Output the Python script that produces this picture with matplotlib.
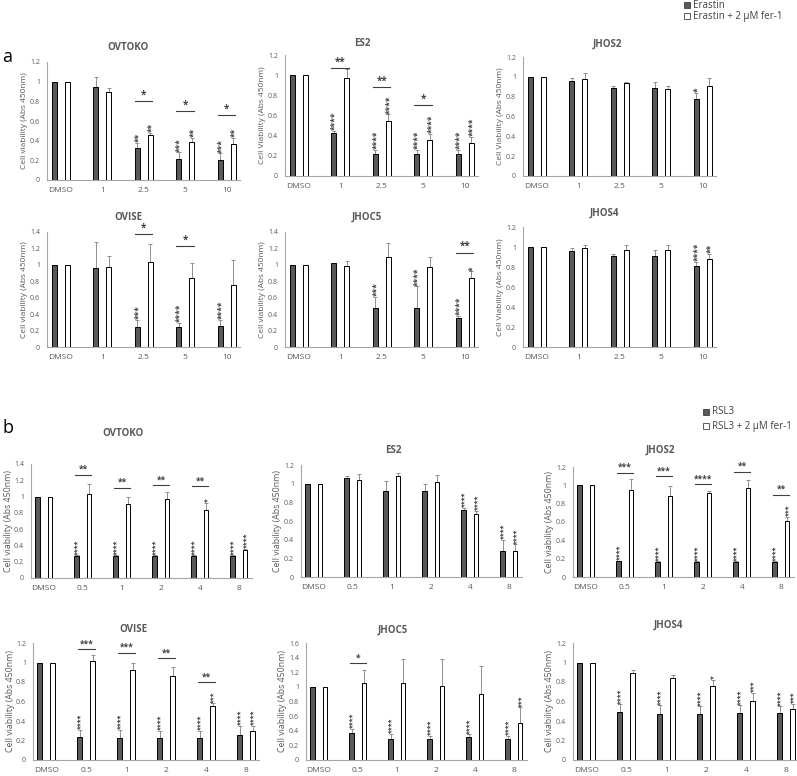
import matplotlib
matplotlib.use("Agg")
import matplotlib.pyplot as plt
from matplotlib.ticker import FuncFormatter, MultipleLocator
from matplotlib.patches import Rectangle
import numpy as np

# ---------------- data ----------------
a_doses = ["DMSO", "1", "2.5", "5", "10"]
b_doses = ["DMSO", "0.5", "1", "2", "4", "8"]

# panel a (Erastin)
a_ovtoko_drug = [1.00, 0.95, 0.33, 0.21, 0.20]
a_ovtoko_drug_err = [0, 0.10, 0.05, 0.07, 0.07]
a_ovtoko_fer = [1.00, 0.89, 0.46, 0.39, 0.37]
a_ovtoko_fer_err = [0, 0.05, 0.02, 0.04, 0.06]
a_ovtoko_drug_sig = ["", "", "**", "***", "***"]
a_ovtoko_fer_sig = ["", "", "**", "**", "**"]
a_ovtoko_pair_sig = ["", "", "*", "*", "*"]
a_ovtoko_pair_y = [0, 0, 0.80, 0.70, 0.66]

a_es2_drug = [1.00, 0.43, 0.22, 0.22, 0.22]
a_es2_drug_err = [0, 0.02, 0.04, 0.04, 0.04]
a_es2_fer = [1.00, 0.97, 0.55, 0.36, 0.33]
a_es2_fer_err = [0, 0.09, 0.06, 0.06, 0.06]
a_es2_drug_sig = ["", "****", "****", "****", "****"]
a_es2_fer_sig = ["", "", "****", "****", "****"]
a_es2_pair_sig = ["", "**", "**", "*", ""]
a_es2_pair_y = [0, 1.07, 0.88, 0.70, 0]

a_jhos2_drug = [1.00, 0.96, 0.89, 0.89, 0.78]
a_jhos2_drug_err = [0, 0.03, 0.02, 0.06, 0.06]
a_jhos2_fer = [1.00, 0.98, 0.94, 0.88, 0.91]
a_jhos2_fer_err = [0, 0.06, 0.005, 0.03, 0.08]
a_jhos2_drug_sig = ["", "", "", "", "*"]
a_jhos2_fer_sig = ["", "", "", "", ""]
a_jhos2_pair_sig = ["", "", "", "", ""]
a_jhos2_pair_y = [0, 0, 0, 0, 0]

a_ovise_drug = [1.00, 0.96, 0.24, 0.24, 0.26]
a_ovise_drug_err = [0, 0.32, 0.09, 0.05, 0.07]
a_ovise_fer = [1.00, 0.98, 1.03, 0.84, 0.76]
a_ovise_fer_err = [0, 0.13, 0.23, 0.18, 0.30]
a_ovise_drug_sig = ["", "", "***", "****", "****"]
a_ovise_fer_sig = ["", "", "", "", ""]
a_ovise_pair_sig = ["", "", "*", "*", ""]
a_ovise_pair_y = [0, 0, 1.37, 1.23, 0]

a_jhoc5_drug = [1.00, 1.02, 0.47, 0.47, 0.35]
a_jhoc5_drug_err = [0, 0.005, 0.14, 0.27, 0.03]
a_jhoc5_fer = [1.00, 0.99, 1.10, 0.98, 0.84]
a_jhoc5_fer_err = [0, 0.06, 0.17, 0.12, 0.08]
a_jhoc5_drug_sig = ["", "", "***", "****", "****"]
a_jhoc5_fer_sig = ["", "", "", "", "*"]
a_jhoc5_pair_sig = ["", "", "", "", "**"]
a_jhoc5_pair_y = [0, 0, 0, 0, 1.15]

a_jhos4_drug = [1.00, 0.96, 0.91, 0.91, 0.81]
a_jhos4_drug_err = [0, 0.03, 0.02, 0.06, 0.04]
a_jhos4_fer = [1.00, 0.99, 0.97, 0.97, 0.88]
a_jhos4_fer_err = [0, 0.03, 0.05, 0.05, 0.05]
a_jhos4_drug_sig = ["", "", "", "", "****"]
a_jhos4_fer_sig = ["", "", "", "", "**"]
a_jhos4_pair_sig = ["", "", "", "", ""]
a_jhos4_pair_y = [0, 0, 0, 0, 0]

# panel b (RSL3)
b_ovtoko_drug = [1.00, 0.27, 0.27, 0.27, 0.27, 0.27]
b_ovtoko_drug_err = [0, 0.01, 0.01, 0.01, 0.01, 0.01]
b_ovtoko_fer = [1.00, 1.03, 0.91, 0.97, 0.83, 0.34]
b_ovtoko_fer_err = [0, 0.13, 0.08, 0.09, 0.09, 0.02]
b_ovtoko_drug_sig = ["", "****", "****", "****", "****", "****"]
b_ovtoko_fer_sig = ["", "", "", "", "*", "****"]
b_ovtoko_pair_sig = ["", "**", "**", "**", "**", ""]
b_ovtoko_pair_y = [0, 1.27, 1.11, 1.14, 1.13, 0]

b_es2_drug = [1.00, 1.06, 0.92, 0.92, 0.72, 0.28]
b_es2_drug_err = [0, 0.02, 0.11, 0.08, 0.02, 0.12]
b_es2_fer = [1.00, 1.04, 1.08, 1.02, 0.68, 0.28]
b_es2_fer_err = [0, 0.06, 0.03, 0.07, 0.03, 0.07]
b_es2_drug_sig = ["", "", "", "", "****", "****"]
b_es2_fer_sig = ["", "", "", "", "****", "****"]
b_es2_pair_sig = ["", "", "", "", "", ""]
b_es2_pair_y = [0, 0, 0, 0, 0, 0]

b_jhos2_drug = [1.00, 0.17, 0.16, 0.16, 0.16, 0.16]
b_jhos2_drug_err = [0, 0.01, 0.01, 0.01, 0.01, 0.01]
b_jhos2_fer = [1.00, 0.95, 0.88, 0.92, 0.97, 0.61]
b_jhos2_fer_err = [0, 0.12, 0.11, 0.02, 0.09, 0.05]
b_jhos2_drug_sig = ["", "****", "****", "****", "****", "****"]
b_jhos2_fer_sig = ["", "", "", "", "", "***"]
b_jhos2_pair_sig = ["", "***", "***", "****", "**", "**"]
b_jhos2_pair_y = [0, 1.14, 1.10, 1.01, 1.15, 0.90]

b_ovise_drug = [1.00, 0.24, 0.23, 0.23, 0.23, 0.26]
b_ovise_drug_err = [0, 0.07, 0.08, 0.07, 0.07, 0.09]
b_ovise_fer = [1.00, 1.02, 0.92, 0.86, 0.55, 0.30]
b_ovise_fer_err = [0, 0.06, 0.08, 0.09, 0.03, 0.05]
b_ovise_drug_sig = ["", "****", "****", "****", "****", "****"]
b_ovise_fer_sig = ["", "", "", "", "***", "****"]
b_ovise_pair_sig = ["", "***", "***", "**", "**", ""]
b_ovise_pair_y = [0, 1.14, 1.10, 1.045, 0.80, 0]

b_jhoc5_drug = [1.00, 0.37, 0.29, 0.29, 0.31, 0.29]
b_jhoc5_drug_err = [0, 0.06, 0.07, 0.04, 0.04, 0.04]
b_jhoc5_fer = [1.00, 1.05, 1.05, 1.01, 0.90, 0.51]
b_jhoc5_fer_err = [0, 0.18, 0.33, 0.37, 0.39, 0.21]
b_jhoc5_drug_sig = ["", "****", "****", "****", "****", "****"]
b_jhoc5_fer_sig = ["", "", "", "", "", "***"]
b_jhoc5_pair_sig = ["", "*", "", "", "", ""]
b_jhoc5_pair_y = [0, 1.32, 0, 0, 0, 0]

b_jhos4_drug = [1.00, 0.49, 0.47, 0.47, 0.48, 0.48]
b_jhos4_drug_err = [0, 0.08, 0.09, 0.08, 0.08, 0.07]
b_jhos4_fer = [1.00, 0.89, 0.84, 0.76, 0.61, 0.52]
b_jhos4_fer_err = [0, 0.03, 0.03, 0.065, 0.08, 0.055]
b_jhos4_drug_sig = ["", "****", "****", "****", "****", "****"]
b_jhos4_fer_sig = ["", "", "", "*", "***", "***"]
b_jhos4_pair_sig = ["", "", "", "", "", ""]
b_jhos4_pair_y = [0, 0, 0, 0, 0, 0]

# ---------------- style ----------------
W, H = 797, 776
FONT = ["Open Sans", "DejaVu Sans"]
plt.rcParams["font.family"] = FONT
TXT = "#595959"
AXC = "#a6a6a6"
DARK = "#595959"
ERRC = "#7f7f7f"

fig = plt.figure(figsize=(W / 100, H / 100), dpi=100)

def fmt(v, _):
    return "%g" % round(v, 1)

# panels: (title, doses, drug, drug_err, fer, fer_err, dsig, fsig, psig, py,
#          ymax, ylabel, L, T, B, spacing, title_x, title_y, star_fs, ylabel_fs, ylabel_gap)
panels = [
    ("OVTOKO", a_doses, a_ovtoko_drug, a_ovtoko_drug_err, a_ovtoko_fer, a_ovtoko_fer_err,
     a_ovtoko_drug_sig, a_ovtoko_fer_sig, a_ovtoko_pair_sig, a_ovtoko_pair_y,
     1.2, "Cell viability (Abs 450nm)", 47, 62, 180, 41.5, 128, 47, 6, 6, 19),
    ("ES2", a_doses, a_es2_drug, a_es2_drug_err, a_es2_fer, a_es2_fer_err,
     a_es2_drug_sig, a_es2_fer_sig, a_es2_pair_sig, a_es2_pair_y,
     1.2, "Cell Viability (Abs 450nm)", 285, 55, 176, 41.5, 362, 43, 6, 6, 19),
    ("JHOS2", a_doses, a_jhos2_drug, a_jhos2_drug_err, a_jhos2_fer, a_jhos2_fer_err,
     a_jhos2_drug_sig, a_jhos2_fer_sig, a_jhos2_pair_sig, a_jhos2_pair_y,
     1.2, "Cell Viability (Abs 450nm)", 523, 57, 176, 41.5, 607, 44, 6, 6, 19),
    ("OVISE", a_doses, a_ovise_drug, a_ovise_drug_err, a_ovise_fer, a_ovise_fer_err,
     a_ovise_drug_sig, a_ovise_fer_sig, a_ovise_pair_sig, a_ovise_pair_y,
     1.4, "Cell viability (Abs 450nm)", 47, 232, 347, 41.5, 128, 218, 6, 6, 19),
    ("JHOC5", a_doses, a_jhoc5_drug, a_jhoc5_drug_err, a_jhoc5_fer, a_jhoc5_fer_err,
     a_jhoc5_drug_sig, a_jhoc5_fer_sig, a_jhoc5_pair_sig, a_jhoc5_pair_y,
     1.4, "Cell viability (Abs 450nm)", 285, 232, 347, 41.5, 367, 217, 6, 6, 19),
    ("JHOS4", a_doses, a_jhos4_drug, a_jhos4_drug_err, a_jhos4_fer, a_jhos4_fer_err,
     a_jhos4_drug_sig, a_jhos4_fer_sig, a_jhos4_pair_sig, a_jhos4_pair_y,
     1.2, "Cell Viability (Abs 450nm)", 523, 227, 347, 41.5, 604, 213, 6, 6, 19),
    ("OVTOKO", b_doses, b_ovtoko_drug, b_ovtoko_drug_err, b_ovtoko_fer, b_ovtoko_fer_err,
     b_ovtoko_drug_sig, b_ovtoko_fer_sig, b_ovtoko_pair_sig, b_ovtoko_pair_y,
     1.4, "Cell viability (Abs 450nm)", 31, 464, 578, 39, 123, 433, 5, 6.3, 18),
    ("ES2", b_doses, b_es2_drug, b_es2_drug_err, b_es2_fer, b_es2_fer_err,
     b_es2_drug_sig, b_es2_fer_sig, b_es2_pair_sig, b_es2_pair_y,
     1.2, "Cell viability (Abs 450nm)", 301, 465, 577, 39, 393, 450, 5, 6.3, 19),
    ("JHOS2", b_doses, b_jhos2_drug, b_jhos2_drug_err, b_jhos2_fer, b_jhos2_fer_err,
     b_jhos2_drug_sig, b_jhos2_fer_sig, b_jhos2_pair_sig, b_jhos2_pair_y,
     1.2, "Cell viability (Abs 450nm)", 573, 467, 577, 39, 660, 450, 5, 6.3, 19),
    ("OVISE", b_doses, b_ovise_drug, b_ovise_drug_err, b_ovise_fer, b_ovise_fer_err,
     b_ovise_drug_sig, b_ovise_fer_sig, b_ovise_pair_sig, b_ovise_pair_y,
     1.2, "Cell viability (Abs 450nm)", 33, 643, 760, 40, 133, 630, 5, 6.3, 18),
    ("JHOC5", b_doses, b_jhoc5_drug, b_jhoc5_drug_err, b_jhoc5_fer, b_jhoc5_fer_err,
     b_jhoc5_drug_sig, b_jhoc5_fer_sig, b_jhoc5_pair_sig, b_jhoc5_pair_y,
     1.6, "Cell viability (Abs 450nm)", 306, 643, 760, 39, 393, 630, 5, 6.3, 19),
    ("JHOS4", b_doses, b_jhos4_drug, b_jhos4_drug_err, b_jhos4_fer, b_jhos4_fer_err,
     b_jhos4_drug_sig, b_jhos4_fer_sig, b_jhos4_pair_sig, b_jhos4_pair_y,
     1.2, "Cell viability (Abs 450nm)", 573, 643, 760, 40, 668, 625, 5, 6.3, 19),
]

OFF = 0.16
BW = 0.12
XPAD = 0.33

for (title, doses, drug, derr, fer, ferr, dsig, fsig, psig, py,
     ymax, ylab, L, T, B, sp, tx, ty, sfs, yfs, ygap) in panels:
    n = len(doses)
    wpx = (n - 1 + 2 * XPAD) * sp
    ax = fig.add_axes([L / W, 1 - B / H, wpx / W, (B - T) / H])
    x = np.arange(n)
    ax.bar(x - OFF, drug, BW, color=DARK, edgecolor="black", linewidth=0.7, zorder=3)
    ax.bar(x + OFF, fer, BW, color="white", edgecolor="black", linewidth=0.7, zorder=3)
    z = np.zeros(n)
    ax.errorbar(x - OFF, drug, yerr=[z, derr], fmt="none", ecolor=ERRC,
                elinewidth=0.6, capsize=1.2, capthick=0.6, zorder=2)
    ax.errorbar(x + OFF, fer, yerr=[z, ferr], fmt="none", ecolor=ERRC,
                elinewidth=0.6, capsize=1.2, capthick=0.6, zorder=2)
    sx = 0.2 * sfs
    for i in range(n):
        if dsig[i]:
            ax.annotate(dsig[i], (x[i] - OFF, drug[i] + derr[i]), xytext=(sx, 0.5),
                        textcoords="offset points", rotation=90, ha="center", va="bottom",
                        fontsize=sfs, color="#404040", fontweight="bold")
        if fsig[i]:
            ax.annotate(fsig[i], (x[i] + OFF, fer[i] + ferr[i]), xytext=(sx, 0.5),
                        textcoords="offset points", rotation=90, ha="center", va="bottom",
                        fontsize=sfs, color="#404040", fontweight="bold")
        if psig[i]:
            ax.plot([x[i] - 0.21, x[i] + 0.21], [py[i], py[i]], color="#404040",
                    lw=0.8, clip_on=False, zorder=4)
            ax.annotate(psig[i], (x[i], py[i]), xytext=(0, 0.5), textcoords="offset points",
                        ha="center", va="bottom", fontsize=sfs + 1, color="#404040",
                        fontweight="bold")
    ax.set_xlim(-XPAD, n - 1 + XPAD)
    ax.set_ylim(0, ymax)
    ax.yaxis.set_major_locator(MultipleLocator(0.2))
    ax.yaxis.set_major_formatter(FuncFormatter(fmt))
    ax.set_xticks(x)
    ax.set_xticklabels(doses)
    ax.tick_params(axis="both", length=0, colors=TXT)
    ax.tick_params(axis="x", labelsize=6, pad=5)
    ax.tick_params(axis="y", labelsize=5, pad=5)
    for s in ("top", "right"):
        ax.spines[s].set_visible(False)
    for s in ("left", "bottom"):
        ax.spines[s].set_color(AXC)
        ax.spines[s].set_linewidth(0.8)
    ax.set_ylabel(ylab, fontsize=yfs, color=TXT)
    ax.yaxis.set_label_coords(-ygap / wpx, 0.5)
    fig.text(tx / W, 1 - ty / H, title, ha="center", va="center", fontsize=7,
             fontweight="bold", color=TXT)

# legends
def legend(xs, ys, label, filled):
    h = 6
    fig.patches.append(Rectangle(((xs) / W, 1 - (ys + h / 2) / H), h / W, h / H,
                                 transform=fig.transFigure, facecolor=DARK if filled else "white",
                                 edgecolor="#404040", linewidth=0.6))
    fig.text((xs + h + 3) / W, 1 - ys / H, label, ha="left", va="center",
             fontsize=7, color="#404040")

legend(684, 5, "Erastin", True)
legend(684, 16, "Erastin + 2 \u03bcM fer-1", False)
legend(703, 412, "RSL3", True)
legend(703, 426, "RSL3 + 2 \u03bcM fer-1", False)

fig.text(2 / W, 1 - 57 / H, "a", ha="left", va="center", fontsize=13, color="black")
fig.text(2 / W, 1 - 428 / H, "b", ha="left", va="center", fontsize=13, color="black")

fig.savefig("out.png", dpi=100)
